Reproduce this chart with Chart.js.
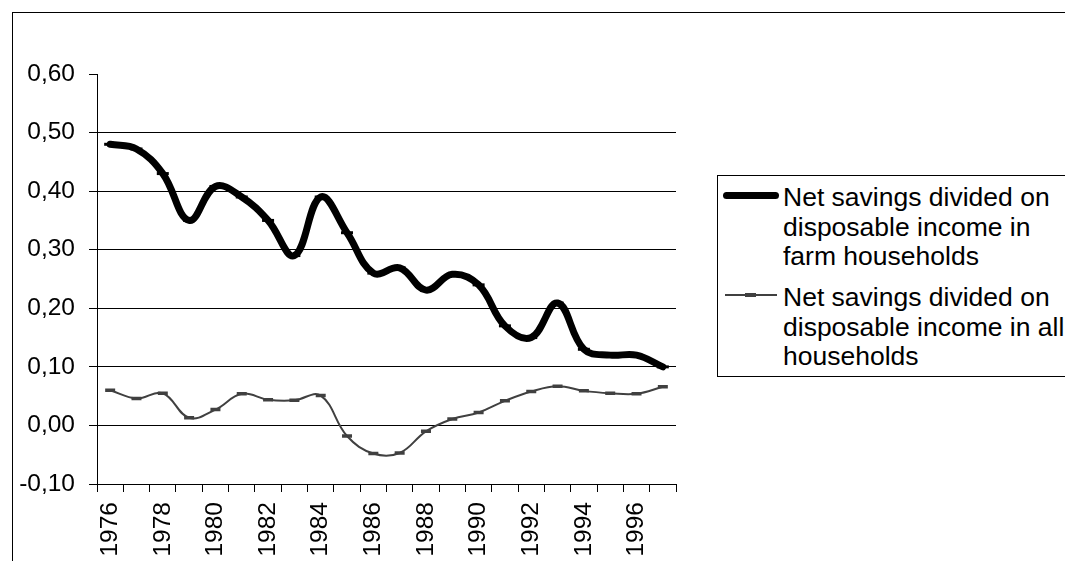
<!DOCTYPE html>
<html><head><meta charset="utf-8">
<script src="https://cdn.jsdelivr.net/npm/chart.js@4.4.1/dist/chart.umd.min.js"></script>
<style>
html,body{margin:0;padding:0;background:#fff;width:1065px;height:561px;overflow:hidden;font-family:"Liberation Sans",Arial,sans-serif;}
#wrap{position:relative;width:1065px;height:561px;overflow:hidden;}
#frame{position:absolute;left:12px;top:12px;width:1200px;height:700px;border-left:1px solid #000;border-top:1px solid #000;}
#c{position:absolute;left:0;top:0;}
#legend{position:absolute;left:717px;top:175px;width:500px;height:200px;border-left:1px solid #000;border-top:1px solid #000;border-bottom:1px solid #000;background:#fff;}
.lt{position:absolute;left:65px;width:295px;font-size:26.5px;line-height:29.5px;color:#000;}
.ls{position:absolute;}
</style></head>
<body><div id="wrap"><div id="frame"></div><canvas id="c" width="1065" height="561"></canvas><div id="legend"></div></div>
<script>
const years = ['1976','1977','1978','1979','1980','1981','1982','1983','1984','1985','1986','1987','1988','1989','1990','1991','1992','1993','1994','1995','1996','1997'];
const farmSavings = [0.480,0.472,0.430,0.350,0.408,0.390,0.350,0.290,0.390,0.329,0.260,0.269,0.231,0.258,0.240,0.170,0.150,0.209,0.130,0.120,0.120,0.100];
const allSavings = [0.060,0.046,0.055,0.013,0.027,0.054,0.044,0.043,0.051,-0.018,-0.048,-0.047,-0.010,0.011,0.022,0.042,0.058,0.067,0.059,0.055,0.054,0.066];
const seriesNames = ['Net savings divided on disposable income in farm households','Net savings divided on disposable income in all households'];
const yMin = -0.1, yMax = 0.6, yStep = 0.1;

const FONT = '"Liberation Sans", Arial, sans-serif';
const chart = new Chart(document.getElementById('c'), {
  type: 'line',
  data: {
    labels: years,
    datasets: [
      {label: seriesNames[0], data: farmSavings, borderColor:'#000', borderWidth:7, tension:0.4,
       borderCapStyle:'round', borderJoinStyle:'round',
       pointStyle:'line', pointRadius:6, pointBorderWidth:3, pointBorderColor:'#000', pointBackgroundColor:'#000'},
      {label: seriesNames[1], data: allSavings, borderColor:'#404040', borderWidth:2, tension:0.4,
       pointStyle:'line', pointRadius:5, pointBorderWidth:3.5, pointBorderColor:'#404040', pointBackgroundColor:'#404040'}
    ]
  },
  options: {
    responsive:false, animation:false, devicePixelRatio:1,
    layout:{padding:{top:74,right:389,left:0,bottom:0}},
    plugins:{legend:{display:false}, tooltip:{enabled:false}},
    scales:{
      x:{
        type:'category', offset:true,
        grid:{offset:true, drawOnChartArea:false, drawTicks:true, tickLength:8, color:'#000', lineWidth:1},
        border:{display:true, color:'#000', width:1},
        ticks:{autoSkip:false, maxRotation:90, minRotation:90, padding:10, color:'#000',
          font:{family:FONT, size:24.5},
          callback:function(v,i){ return i%2===0 ? this.getLabelForValue(v) : ''; }},
        afterFit:function(s){ s.height = 77; }
      },
      y:{
        min:yMin, max:yMax,
        grid:{color:(ctx)=> (ctx.tick && Math.abs(ctx.tick.value-yMax)<1e-6) ? 'rgba(0,0,0,0)' : '#000',
              tickColor:'#000', tickLength:8, lineWidth:1, drawTicks:true},
        border:{display:true, color:'#000', width:1},
        ticks:{stepSize:yStep, padding:14, color:'#000', font:{family:FONT, size:24.5},
          callback:(v)=> (Math.abs(v)<1e-9?0:v).toFixed(2).replace('.',',')},
        afterFit:function(s){ s.width = 97; }
      }
    }
  }
});

// HTML legend built from datasets
const lg = document.getElementById('legend');
const entryTops = [7, 107];
chart.data.datasets.forEach((ds, i) => {
  const top = entryTops[i];
  const t = document.createElement('div');
  t.className = 'lt'; t.style.top = top + 'px'; t.textContent = ds.label;
  lg.appendChild(t);
  const lineY = top + 12;
  const ln = document.createElement('div'); ln.className = 'ls';
  if (i === 0) {
    ln.style.cssText += `left:5px;top:${lineY-3.5}px;width:56px;height:7px;background:${ds.borderColor};border-radius:4px;`;
    lg.appendChild(ln);
  } else {
    ln.style.cssText += `left:7px;top:${lineY-1}px;width:52px;height:2px;background:${ds.borderColor};`;
    lg.appendChild(ln);
    const mk = document.createElement('div'); mk.className = 'ls';
    mk.style.cssText = `left:27px;top:${lineY-2}px;width:11px;height:4px;background:${ds.pointBorderColor};`;
    lg.appendChild(mk);
  }
});
</script>
</body></html>
